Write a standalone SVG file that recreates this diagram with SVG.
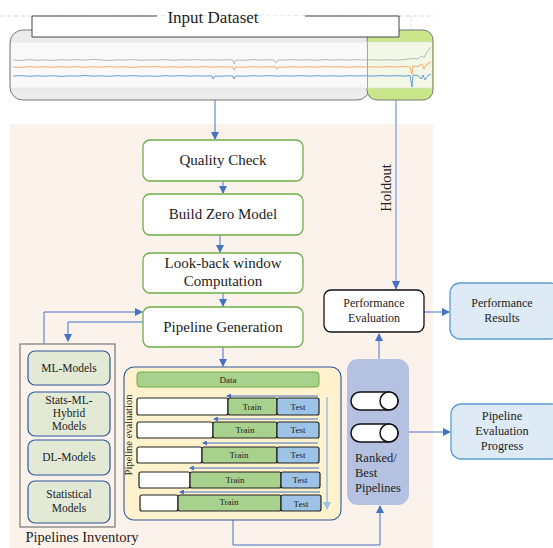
<svg xmlns="http://www.w3.org/2000/svg" width="553" height="548" viewBox="0 0 553 548">
<defs>
<marker id="ah" markerWidth="8" markerHeight="8" refX="7" refY="4" orient="auto" markerUnits="userSpaceOnUse">
<path d="M0,0 L8,4 L0,8 Z" fill="#4472c4"/>
</marker>
<marker id="ahl" markerWidth="8" markerHeight="8" refX="7" refY="4" orient="auto" markerUnits="userSpaceOnUse">
<path d="M0,0 L8,4 L0,8 Z" fill="#9dc3e6"/>
</marker>
<marker id="ahs" markerWidth="5" markerHeight="5" refX="4" refY="2.5" orient="auto" markerUnits="userSpaceOnUse">
<path d="M0,0 L5,2.5 L0,5 Z" fill="#4472c4"/>
</marker>
</defs>
<style>
.t{font-family:"Liberation Serif","Times New Roman",serif;fill:#222}
.step{fill:#fff;stroke:#70ad47;stroke-width:1.3}
.inv{fill:#e2ead6;stroke:#2f5597;stroke-width:1.2}
.res{fill:#deebf7;stroke:#5b9bd5;stroke-width:1.3}
.con{fill:none;stroke:#4472c4;stroke-width:1}
.row{stroke:#222;stroke-width:1.2}
.tr{fill:#a9d18e}
.ts{fill:#9dc3e6}
.wh{fill:#fff}
.sm{font-size:9px;text-anchor:middle}
.cyl{fill:#fff;stroke:#111;stroke-width:1.5}
</style>
<rect width="553" height="548" fill="#fff"/>
<!-- background -->
<rect x="10" y="124" width="423" height="424" fill="#fcf2ec"/>
<!-- dataset -->
<g id="dataset">
<line x1="0" y1="16" x2="435" y2="16" stroke="#ccc" stroke-width="0.8" stroke-dasharray="4,3"/>
<line x1="411" y1="16" x2="411" y2="30" stroke="#ccc" stroke-width="0.8" stroke-dasharray="2,2"/>
<rect x="10" y="30" width="360" height="70" rx="13" fill="#ececec" stroke="#777" stroke-width="1"/>
<rect x="367" y="30" width="66" height="70" rx="10" fill="#c9e78a" stroke="#777" stroke-width="1"/>
<rect x="11" y="42" width="356" height="46" fill="#f9f9f9"/>
<rect x="368" y="42" width="64" height="46" fill="#f2f7e6"/>
<line x1="11" y1="42" x2="432" y2="42" stroke="#ddd" stroke-width="0.6"/>
<line x1="11" y1="88" x2="432" y2="88" stroke="#ddd" stroke-width="0.6"/>
<polyline fill="none" stroke="#aaa" stroke-width="0.8" points="13,60 21,60.5 29,59.6 37,60.3 45,59.8 53,60.4 61,59.7 69,60.2 77,59.5 85,60.1 93,59.4 101,59.9 109,60.5 117,59.8 125,60.2 133,59.6 141,60.3 149,59.9 157,60.1 165,59.5 173,60.4 181,59.7 189,60 197,59.6 205,60.2 213,59.8 221,60.1 229,59.7 233,60 234,64 236,60 245,60.3 253,59.6 261,60.1 269,59.8 274,60.2 276,63 278,59.8 285,60.2 293,59.6 301,60.1 309,59.8 317,60.3 325,59.6 333,60.1 341,59.7 349,60.2 357,59.6 365,60 373,59.8 381,60.2 389,59.7 397,60.1 405,59.4 413,58.5 418,59 421,56 424,57.5 427,52 431,47"/>
<polyline fill="none" stroke="#f4a15d" stroke-width="0.9" points="13,67 21,67.4 29,66.6 37,67.2 45,66.8 53,67.3 61,66.7 69,67.1 77,66.6 85,67.3 93,66.8 101,67.2 109,66.5 117,67.1 125,66.8 133,67.4 141,66.7 149,67 157,66.6 165,67.2 173,66.8 181,67.3 189,66.7 197,67.1 205,66.6 213,67.2 221,66.8 229,67 233,67 234,70 236,67 245,67.2 253,66.6 261,67.1 269,66.8 276,67 277,69 279,67 285,67.2 293,66.7 301,67.1 309,66.8 317,67.2 325,66.6 333,67 341,66.8 349,67.2 357,66.7 365,67 373,66.8 381,67.1 389,66.6 397,67 405,66.5 410,67 412,74 413,66 418,66.5 422,64 424,69 427,64 431,62"/>
<polyline fill="none" stroke="#5b8fd6" stroke-width="0.9" points="13,76 21,75.6 29,76.3 37,75.8 45,76.2 53,75.7 61,76.4 69,75.9 77,76.1 85,75.5 93,76.2 101,75.8 109,76.3 117,75.7 125,76.1 133,75.6 141,76.2 149,75.9 157,76.4 165,75.7 173,76.1 181,75.6 189,76.2 197,75.8 205,76.1 212,75.9 213,79 215,76 221,76.2 229,75.8 233,76 234,79 236,76 245,76.2 253,75.7 261,76.1 269,75.6 277,76.2 285,75.8 293,76.1 301,75.6 309,76.2 317,75.7 325,76.1 333,75.8 341,76.2 349,75.7 357,76 365,75.8 373,76.1 381,75.6 389,76 397,75.7 405,76.1 410,75.5 412,87 413,75 418,75.5 421,79 423,75 425,80 428,75.5 431,74"/>
<rect x="32" y="16" width="367" height="21" fill="#fff"/>
<path d="M157,16 H32 V37 H399 V16 H305" fill="none" stroke="#444" stroke-width="1"/>
<text class="t" x="213" y="23" font-size="17" text-anchor="middle">Input Dataset</text>
</g>
<!-- connectors -->
<g id="connectors">
<line class="con" x1="215" y1="100" x2="215" y2="139" marker-end="url(#ah)"/>
<line class="con" x1="223" y1="181" x2="223" y2="193" marker-end="url(#ah)"/>
<line class="con" x1="220" y1="235" x2="220" y2="252" marker-end="url(#ah)"/>
<line class="con" x1="223" y1="293" x2="223" y2="306" marker-end="url(#ah)"/>
<line class="con" x1="223" y1="347" x2="223" y2="366" marker-end="url(#ah)"/>
<polyline class="con" points="44,344 44,312 142,312" marker-end="url(#ah)"/>
<polyline class="con" points="143,322 68,322 68,341" marker-end="url(#ah)"/>
<line x1="396" y1="100" x2="396" y2="289" stroke="#8faadc" stroke-width="1.5" fill="none"/>
<path d="M392,281 L400,281 L396,290 Z" fill="#4472c4"/>
<polyline class="con" points="233,520 233,545 380,545 380,506" marker-end="url(#ah)"/>
<line class="con" x1="379" y1="359" x2="379" y2="334" marker-end="url(#ah)"/>
<line class="con" x1="424" y1="312" x2="449" y2="312" marker-end="url(#ah)"/>
<line class="con" x1="409" y1="432" x2="450" y2="432" marker-end="url(#ah)"/>
<text class="t" x="391" y="188" font-size="14.5" text-anchor="middle" transform="rotate(-90 391 188)">Holdout</text>
</g>
<!-- steps -->
<g id="quality-check">
<rect class="step" x="143" y="140" width="160" height="41" rx="7"/>
<text class="t" x="223" y="165" font-size="15" text-anchor="middle">Quality Check</text>
</g>
<g id="build-zero-model">
<rect class="step" x="143" y="194" width="160" height="41" rx="7"/>
<text class="t" x="223" y="219" font-size="15" text-anchor="middle">Build Zero Model</text>
</g>
<g id="look-back">
<rect class="step" x="143" y="253" width="160" height="40" rx="7"/>
<text class="t" x="223" y="268" font-size="15" text-anchor="middle">Look-back window</text>
<text class="t" x="223" y="286" font-size="15" text-anchor="middle">Computation</text>
</g>
<g id="pipeline-generation">
<rect class="step" x="143" y="307" width="160" height="40" rx="7"/>
<text class="t" x="223" y="332" font-size="15" text-anchor="middle">Pipeline Generation</text>
</g>
<!-- inventory -->
<g id="pipelines-inventory">
<rect x="20" y="344" width="95" height="183" fill="none" stroke="#777" stroke-width="1.2"/>
<text class="t" x="82" y="542" font-size="14.5" text-anchor="middle">Pipelines Inventory</text>
</g>
<g id="ml-models">
<rect class="inv" x="28" y="351" width="82" height="34" rx="7"/>
<text class="t" x="69" y="372" font-size="11.5" text-anchor="middle">ML-Models</text>
</g>
<g id="stats-ml-hybrid">
<rect class="inv" x="28" y="392" width="82" height="44" rx="7"/>
<text class="t" x="69" y="404" font-size="11.5" text-anchor="middle">Stats-ML-</text>
<text class="t" x="69" y="417" font-size="11.5" text-anchor="middle">Hybrid</text>
<text class="t" x="69" y="430" font-size="11.5" text-anchor="middle">Models</text>
</g>
<g id="dl-models">
<rect class="inv" x="28" y="440" width="82" height="35" rx="7"/>
<text class="t" x="69" y="461" font-size="11.5" text-anchor="middle">DL-Models</text>
</g>
<g id="statistical-models">
<rect class="inv" x="28" y="481" width="82" height="42" rx="7"/>
<text class="t" x="69" y="498" font-size="11.5" text-anchor="middle">Statistical</text>
<text class="t" x="69" y="512" font-size="11.5" text-anchor="middle">Models</text>
</g>
<!-- pipeline evaluation -->
<g id="pipeline-evaluation">
<rect x="124" y="367" width="217" height="153" rx="10" fill="#fff2cc" stroke="#2f5597" stroke-width="1.1"/>
<text class="t" x="132" y="435" font-size="10.5" text-anchor="middle" transform="rotate(-90 132 435)">Pipeline evaluation</text>
<rect x="137" y="372" width="182" height="15" rx="3" fill="#a9d18e" stroke="#70ad47" stroke-width="1"/>
<text class="t sm" x="228" y="383">Data</text>
<line x1="327" y1="397" x2="327" y2="509" stroke="#9dc3e6" stroke-width="1.6" marker-end="url(#ahl)"/>
<line class="con" x1="318" y1="396" x2="227" y2="396" marker-end="url(#ahs)"/>
<line class="con" x1="318" y1="419" x2="214" y2="419" marker-end="url(#ahs)"/>
<line class="con" x1="318" y1="443" x2="203" y2="443" marker-end="url(#ahs)"/>
<line class="con" x1="319" y1="468" x2="190" y2="468" marker-end="url(#ahs)"/>
<line class="con" x1="320" y1="492" x2="180" y2="492" marker-end="url(#ahs)"/>
<rect class="row wh" x="137" y="398" width="91" height="17" rx="2"/>
<rect class="row tr" x="228" y="398" width="49" height="17" rx="2"/>
<rect class="row ts" x="277" y="398" width="42" height="17" rx="2"/>
<text class="t sm" x="252" y="410">Train</text><text class="t sm" x="298" y="410">Test</text>
<rect class="row wh" x="137" y="422" width="76" height="16" rx="2"/>
<rect class="row tr" x="213" y="422" width="64" height="16" rx="2"/>
<rect class="row ts" x="277" y="422" width="42" height="16" rx="2"/>
<text class="t sm" x="245" y="433">Train</text><text class="t sm" x="298" y="433">Test</text>
<rect class="row wh" x="137" y="447" width="65" height="16" rx="2"/>
<rect class="row tr" x="202" y="447" width="75" height="16" rx="2"/>
<rect class="row ts" x="277" y="447" width="42" height="16" rx="2"/>
<text class="t sm" x="239" y="458">Train</text><text class="t sm" x="298" y="458">Test</text>
<rect class="row wh" x="139" y="472" width="51" height="16" rx="2"/>
<rect class="row tr" x="190" y="472" width="91" height="16" rx="2"/>
<rect class="row ts" x="281" y="472" width="39" height="16" rx="2"/>
<text class="t sm" x="235" y="483">Train</text><text class="t sm" x="300" y="483">Test</text>
<rect class="row wh" x="140" y="495" width="38" height="16" rx="2"/>
<rect class="row tr" x="178" y="495" width="103" height="16" rx="2"/>
<rect class="row ts" x="281" y="495" width="40" height="16" rx="2"/>
<text class="t sm" x="229" y="505">Train</text><text class="t sm" x="301" y="507">Test</text>
</g>
<!-- ranked -->
<g id="ranked-best-pipelines">
<rect x="347" y="359" width="62" height="146" rx="11" fill="#b4c1e1"/>
<path class="cyl" d="M360,392 H389 A9,9 0 0 1 389,410 H360 A9,9 0 0 1 360,392 Z"/>
<circle class="cyl" cx="389" cy="401" r="9"/>
<path class="cyl" d="M360,424 H389 A9,9 0 0 1 389,442 H360 A9,9 0 0 1 360,424 Z"/>
<circle class="cyl" cx="389" cy="433" r="9"/>
<text class="t" x="355" y="462" font-size="12.5">Ranked/</text>
<text class="t" x="355" y="477" font-size="12.5">Best</text>
<text class="t" x="355" y="492" font-size="12.5">Pipelines</text>
</g>
<g id="performance-evaluation">
<rect x="324" y="290" width="100" height="42" rx="7" fill="#fff" stroke="#111" stroke-width="1.3"/>
<text class="t" x="374" y="307" font-size="12" text-anchor="middle">Performance</text>
<text class="t" x="374" y="322" font-size="12" text-anchor="middle">Evaluation</text>
</g>
<g id="performance-results">
<rect class="res" x="450" y="283" width="110" height="56" rx="10"/>
<text class="t" x="502" y="307" font-size="12" text-anchor="middle">Performance</text>
<text class="t" x="502" y="322" font-size="12" text-anchor="middle">Results</text>
</g>
<g id="pipeline-evaluation-progress">
<rect class="res" x="451" y="404" width="110" height="55" rx="10"/>
<text class="t" x="502" y="420" font-size="12.3" text-anchor="middle">Pipeline</text>
<text class="t" x="502" y="435" font-size="12.3" text-anchor="middle">Evaluation</text>
<text class="t" x="502" y="450" font-size="12.3" text-anchor="middle">Progress</text>
</g>
</svg>
